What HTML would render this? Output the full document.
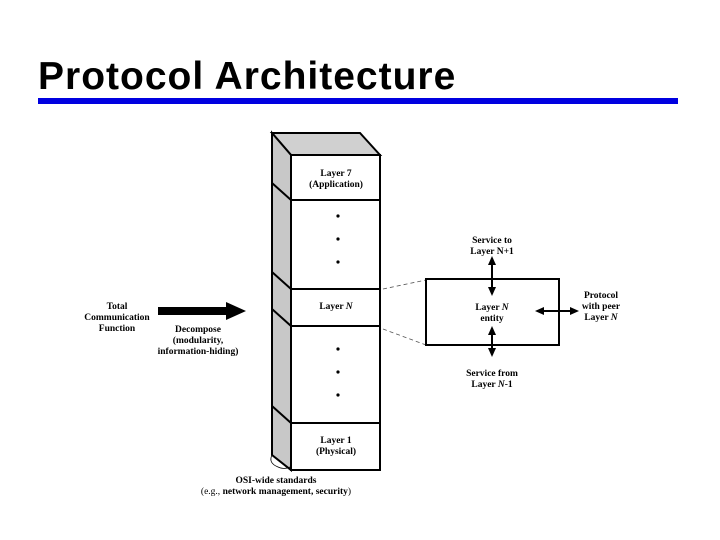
<!DOCTYPE html>
<html><head><style>
body{margin:0;width:720px;height:540px;background:#fff;overflow:hidden;position:relative;font-family:"Liberation Serif",serif}
.t{position:absolute;left:38px;top:55px;font:bold 39px "Liberation Sans",sans-serif;letter-spacing:1px;color:#000;white-space:nowrap}
.bar{position:absolute;left:38px;top:98px;width:640px;height:6px;background:#0000e0}
</style></head><body>
<div class="t">Protocol Architecture</div>
<div class="bar"></div>
<svg width="720" height="540" style="position:absolute;left:0;top:0" font-family="Liberation Serif,serif" font-weight="bold" font-size="9.5" text-anchor="middle">
<polygon points="272,133 360,133 380,155 291,155" fill="#d0d0d0" stroke="#000" stroke-width="2"/>
<polygon points="272,133 291,155 291,470 272,455" fill="#c8c8c8" stroke="#000" stroke-width="2"/>
<rect x="291" y="155" width="89" height="315" fill="#fff" stroke="#000" stroke-width="2"/>
<g stroke="#000" stroke-width="2">
<line x1="291" y1="200" x2="380" y2="200"/><line x1="272" y1="183" x2="291" y2="200"/>
<line x1="291" y1="289" x2="380" y2="289"/><line x1="272" y1="272" x2="291" y2="289"/>
<line x1="291" y1="326" x2="380" y2="326"/><line x1="272" y1="309" x2="291" y2="326"/>
<line x1="291" y1="423" x2="380" y2="423"/><line x1="272" y1="406" x2="291" y2="423"/>
</g>
<g fill="#000"><circle cx="338" cy="216" r="1.6"/><circle cx="338" cy="239" r="1.6"/><circle cx="338" cy="262" r="1.6"/>
<circle cx="338" cy="349" r="1.6"/><circle cx="338" cy="372" r="1.6"/><circle cx="338" cy="395" r="1.6"/></g>
<text x="336" y="176">Layer 7</text><text x="336" y="187">(Application)</text>
<text x="336" y="309">Layer <tspan font-style="italic">N</tspan></text>
<text x="336" y="443">Layer 1</text><text x="336" y="454">(Physical)</text>
<path d="M272,455 q-4,8 6,12 q6,3 12,0" fill="none" stroke="#000" stroke-width="0.8"/>
<text x="276" y="483">OSI-wide standards</text>
<text x="276" y="494" font-weight="normal">(e.g., <tspan font-weight="bold">network management, security</tspan>)</text>
<g stroke="#555" stroke-dasharray="4,3" stroke-width="0.8"><line x1="383" y1="289" x2="426" y2="280"/><line x1="383" y1="329" x2="426" y2="345"/></g>
<rect x="426" y="279" width="133" height="66" fill="#fff" stroke="#000" stroke-width="2"/>
<text x="492" y="243">Service to</text><text x="492" y="254">Layer N+1</text>
<text x="492" y="310">Layer <tspan font-style="italic">N</tspan></text><text x="492" y="321">entity</text>
<text x="492" y="376">Service from</text><text x="492" y="387">Layer <tspan font-style="italic">N</tspan>-1</text>
<text x="601" y="298">Protocol</text><text x="601" y="309">with peer</text><text x="601" y="320">Layer <tspan font-style="italic">N</tspan></text>
<g stroke="#000" stroke-width="2"><line x1="492" y1="262" x2="492" y2="290"/><line x1="492" y1="332" x2="492" y2="351"/><line x1="542" y1="311" x2="572" y2="311"/></g>
<g fill="#000">
<polygon points="492,256 488,265 496,265"/><polygon points="492,296 488,287 496,287"/>
<polygon points="492,326 488,335 496,335"/><polygon points="492,357 488,348 496,348"/>
<polygon points="535,311 544,307 544,315"/><polygon points="579,311 570,307 570,315"/>
<polygon points="158,307 226,307 226,302 246,311 226,320 226,315 158,315"/>
</g>
<text x="117" y="309">Total</text><text x="117" y="320">Communication</text><text x="117" y="331">Function</text>
<text x="198" y="332">Decompose</text><text x="198" y="343">(modularity,</text><text x="198" y="354">information-hiding)</text>
</svg>
</body></html>
